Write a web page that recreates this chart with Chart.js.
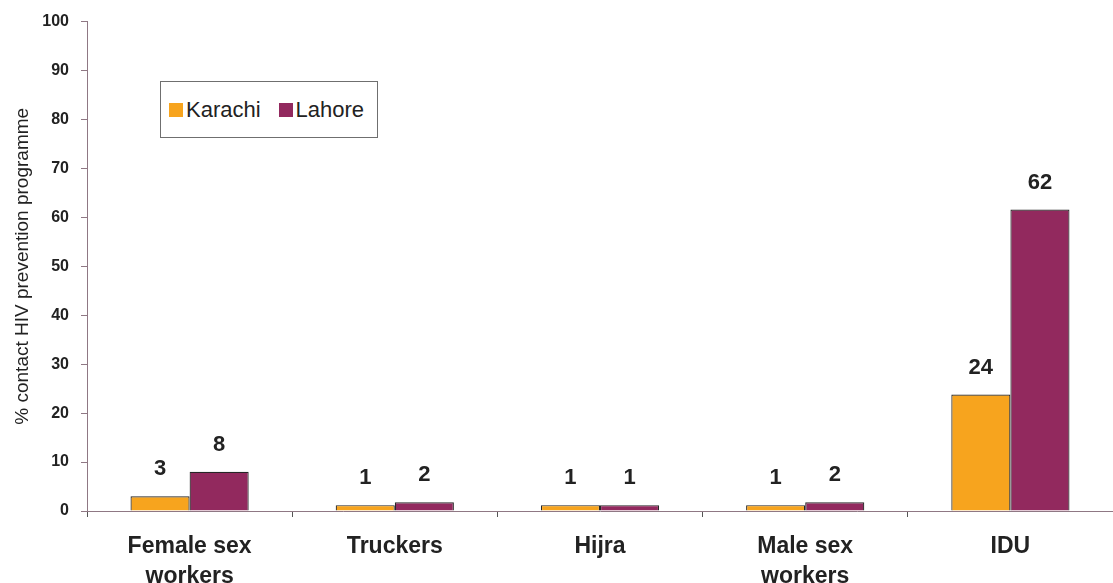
<!DOCTYPE html>
<html>
<head>
<meta charset="utf-8">
<script src="https://cdn.jsdelivr.net/npm/chart.js@4.4.1/dist/chart.umd.min.js"></script>
<style>
  html, body { margin: 0; padding: 0; background: #fff; }
  #wrap { position: relative; width: 1113px; height: 583px; overflow: hidden; }
  canvas { display: block; }
  #legend {
    position: absolute; left: 160px; top: 81px; width: 216px; height: 55px;
    border: 1px solid #6f6f6f; background: #fff; box-sizing: content-box;
    font-family: "Liberation Sans", Arial, sans-serif; font-size: 22px; color: #222;
    display: flex; align-items: center;
  }
  #legend .item { display: flex; align-items: center; margin-left: 8px; }
  #legend .item + .item { margin-left: 18px; }
  #legend .sw { width: 14px; height: 14px; margin-right: 3px; }
</style>
</head>
<body>
<div id="wrap">
  <canvas id="c" width="1113" height="583"></canvas>
  <div id="legend"></div>
</div>
<script>
const categories = [["Female sex", "workers"], "Truckers", "Hijra", ["Male sex", "workers"], "IDU"];
const seriesNames = ["Karachi", "Lahore"];
const karachi = [3, 1.2, 1.2, 1.2, 23.8];
const lahore = [8, 1.8, 1.2, 1.8, 61.6];
const seriesColors = ["#F7A41E", "#92295E"];
const yTicks = [0, 10, 20, 30, 40, 50, 60, 70, 80, 90, 100];

const FONT = '"Liberation Sans", Arial, sans-serif';
const axisColor = '#8f7884';

const labelPlugin = {
  id: 'valueLabels',
  afterDatasetsDraw(chart) {
    const ctx = chart.ctx;
    ctx.save();
    ctx.font = 'bold 22px ' + FONT;
    ctx.fillStyle = '#222';
    ctx.textAlign = 'center';
    ctx.textBaseline = 'middle';
    chart.data.datasets.forEach((ds, i) => {
      const meta = chart.getDatasetMeta(i);
      meta.data.forEach((bar, j) => {
        ctx.fillText(String(Math.round(ds.data[j])), bar.x, bar.y - 27);
      });
    });
    ctx.restore();
  }
};

const chart = new Chart(document.getElementById('c'), {
  type: 'bar',
  data: {
    labels: categories,
    datasets: [
      { label: seriesNames[0], data: karachi, backgroundColor: seriesColors[0], borderColor: '#262626', borderWidth: 1.2 },
      { label: seriesNames[1], data: lahore, backgroundColor: seriesColors[1], borderColor: '#262626', borderWidth: 1.2 }
    ]
  },
  options: {
    responsive: false,
    animation: false,
    layout: { padding: { top: 20, right: 0, left: 0, bottom: 0 } },
    datasets: { bar: { categoryPercentage: 0.576, barPercentage: 1.0 } },
    plugins: {
      legend: { display: false },
      tooltip: { enabled: false }
    },
    scales: {
      x: {
        offset: true,
        grid: { display: true, offset: true, drawOnChartArea: false, drawTicks: true, tickLength: 6, color: '#555' },
        border: { display: true, color: axisColor, width: 1 },
        ticks: { color: '#222', font: { family: FONT, size: 23, weight: 'bold', lineHeight: 1.3 }, padding: 15, maxRotation: 0, autoSkip: false },
        afterFit(scale) { scale.height = 72; }
      },
      y: {
        min: 0, max: 100,
        afterBuildTicks(scale) { scale.ticks = yTicks.map(v => ({ value: v })); },
        grid: { display: true, drawOnChartArea: false, drawTicks: true, tickLength: 6, color: axisColor },
        border: { display: true, color: axisColor, width: 1 },
        ticks: { color: '#222', font: { family: FONT, size: 16, weight: 'bold' }, padding: 12 },
        title: { display: true, text: '% contact HIV prevention programme', color: '#222', font: { family: FONT, size: 19 }, padding: { top: 11, bottom: 4 } },
        afterFit(scale) { scale.width = 87; }
      }
    }
  },
  plugins: [labelPlugin]
});

const leg = document.getElementById('legend');
chart.data.datasets.forEach(ds => {
  const it = document.createElement('div');
  it.className = 'item';
  const sw = document.createElement('span');
  sw.className = 'sw';
  sw.style.background = ds.backgroundColor;
  const tx = document.createElement('span');
  tx.textContent = ds.label;
  it.appendChild(sw); it.appendChild(tx);
  leg.appendChild(it);
});
</script>
</body>
</html>
